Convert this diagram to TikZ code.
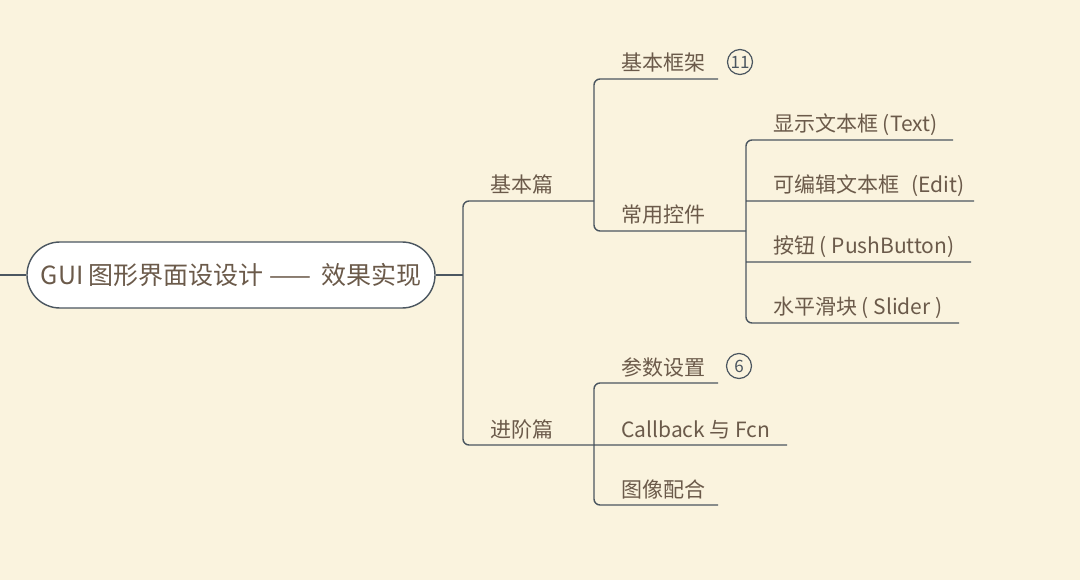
\documentclass[tikz,border=0pt]{standalone}
\usepackage{fontspec}
\setmainfont{Noto Sans CJK SC}
\usetikzlibrary{calc}
\definecolor{paper}{RGB}{250,243,222}
\definecolor{ink}{RGB}{107,90,74}
\definecolor{wire}{RGB}{75,86,96}

\begin{document}
\begin{tikzpicture}[x=1pt, y=-1pt,
    wire/.style={draw=wire, line width=1.4pt, rounded corners=6pt},
    topic/.style={anchor=base west, inner sep=0pt, text=ink, font=\fontsize{21}{25}\selectfont},
    badge/.style={circle, draw=wire, line width=1.2pt, minimum size=25pt, inner sep=0pt, text=wire, font=\fontsize{17}{17}\selectfont}]
	\fill[paper] (0,0) rectangle (1080,580);
	\useasboundingbox (0,0) rectangle (1080,580);
	% central topic
	\node[draw=wire, fill=white, line width=1.4pt, rounded corners=33pt, minimum width=408pt, minimum height=66pt, text=ink, font=\fontsize{25}{25}\selectfont] (gui) at (231,275) {GUI 图形界面设设计 ——\, 效果实现};
	\coordinate (tail) at (0,275);
	% topics: name / line start x / line y / line length / text
	\foreach \n/\x/\y/\w/\t in {jb/463/201/131/基本篇, jj/463/445/131/进阶篇,
			kj/594/79/124/基本框架, cy/594/231/152/常用控件,
			xs/746/140/207/显示文本框 (Text), bj/746/201/228/可编辑文本框\hspace{12pt}(Edit),
			an/746/262/225/按钮 ( PushButton), hk/746/323/213/水平滑块 ( Slider ),
			cs/594/383/124/参数设置, cb/594/445/193/Callback 与 Fcn, tx/594/505/124/图像配合} {
		\coordinate (\n-a) at (\x,\y);
		\coordinate (\n-b) at (\x+\w,\y);
		\node[topic] (\n) at (\x+27,\y-8) {\t};
	}
	\node[badge] (n11) at (740,62) {11};
	\node[badge] (n6) at (739,366) {6};
	% connectors
	\draw[wire, line width=2.6pt] (tail) -- (gui.west);
	\draw[wire] (gui.east) -- (gui.east -| jb-a);
	\draw[wire] (jb-b) -- (jb-a) -- (jj-a) -- (jj-b);
	\draw[wire] (kj-b) -- (kj-a) -- (cy-a) -- (cy-b);
	\draw[wire] (xs-b) -- (xs-a) -- (hk-a) -- (hk-b)
		(bj-a) -- (bj-b) (an-a) -- (an-b);
	\draw[wire] (cs-b) -- (cs-a) -- (tx-a) -- (tx-b)
		(cb-a) -- (cb-b);
\end{tikzpicture}
\end{document}
